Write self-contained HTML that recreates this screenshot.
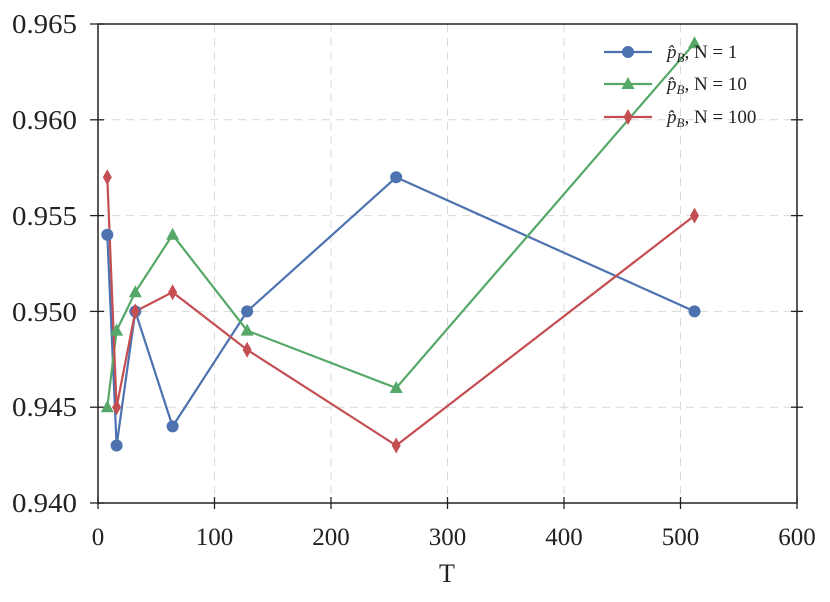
<!DOCTYPE html>
<html><head><meta charset="utf-8"><style>body{margin:0;background:#fff}</style></head><body>
<svg width="830" height="597" xmlns="http://www.w3.org/2000/svg" font-family="Liberation Serif, serif">
<rect width="830" height="597" fill="#fff"/>
<g stroke="#d9d9d9" stroke-width="1" stroke-dasharray="8,6">
<line x1="214.5" y1="24" x2="214.5" y2="503"/><line x1="331" y1="24" x2="331" y2="503"/><line x1="447.5" y1="24" x2="447.5" y2="503"/><line x1="564" y1="24" x2="564" y2="503"/><line x1="680.5" y1="24" x2="680.5" y2="503"/>
<line x1="98" y1="119.8" x2="797" y2="119.8"/><line x1="98" y1="215.6" x2="797" y2="215.6"/><line x1="98" y1="311.4" x2="797" y2="311.4"/><line x1="98" y1="407.2" x2="797" y2="407.2"/>
</g>
<g stroke="#222" stroke-width="1.3">
<line x1="98" y1="497" x2="98" y2="509"/><line x1="214.5" y1="497" x2="214.5" y2="509"/><line x1="331" y1="497" x2="331" y2="509"/><line x1="447.5" y1="497" x2="447.5" y2="509"/><line x1="564" y1="497" x2="564" y2="509"/><line x1="680.5" y1="497" x2="680.5" y2="509"/><line x1="797" y1="497" x2="797" y2="509"/>
<line x1="90" y1="24" x2="104" y2="24"/><line x1="90" y1="119.8" x2="104" y2="119.8"/><line x1="90" y1="215.6" x2="104" y2="215.6"/><line x1="90" y1="311.4" x2="104" y2="311.4"/><line x1="90" y1="407.2" x2="104" y2="407.2"/><line x1="90" y1="503" x2="104" y2="503"/>
<line x1="791" y1="119.8" x2="803" y2="119.8"/><line x1="791" y1="215.6" x2="803" y2="215.6"/><line x1="791" y1="311.4" x2="803" y2="311.4"/><line x1="791" y1="407.2" x2="803" y2="407.2"/>
</g>
<g font-size="27" fill="#222">
<text x="12" y="33" textLength="65" lengthAdjust="spacingAndGlyphs">0.965</text><text x="12" y="129" textLength="65" lengthAdjust="spacingAndGlyphs">0.960</text><text x="12" y="225" textLength="65" lengthAdjust="spacingAndGlyphs">0.955</text><text x="12" y="321" textLength="65" lengthAdjust="spacingAndGlyphs">0.950</text><text x="12" y="416" textLength="65" lengthAdjust="spacingAndGlyphs">0.945</text><text x="12" y="512" textLength="65" lengthAdjust="spacingAndGlyphs">0.940</text>
</g>
<g font-size="25" fill="#222" text-anchor="middle">
<text x="98" y="545">0</text><text x="214.5" y="545">100</text><text x="331" y="545">200</text><text x="447.5" y="545">300</text><text x="564" y="545">400</text><text x="680.5" y="545">500</text><text x="797" y="545">600</text>
<text x="447" y="582" font-size="26">T</text>
</g>
<g fill="none" stroke-width="2.2">
<polyline stroke="#4c72b0" points="107.3,234.8 116.6,445.5 135.3,311.4 172.6,426.4 247.1,311.4 396.2,177.3 694.5,311.4"/>
<polyline stroke="#55a868" points="107.3,407.2 116.6,330.6 135.3,292.2 172.6,234.8 247.1,330.6 396.2,388 694.5,43.2"/>
<polyline stroke="#c44e52" points="107.3,177.3 116.6,407.2 135.3,311.4 172.6,292.2 247.1,349.7 396.2,445.5 694.5,215.6"/>
</g>
<g fill="#4c72b0">
<circle cx="107.3" cy="234.8" r="6"/><circle cx="116.6" cy="445.5" r="6"/><circle cx="135.3" cy="311.4" r="6"/><circle cx="172.6" cy="426.4" r="6"/><circle cx="247.1" cy="311.4" r="6"/><circle cx="396.2" cy="177.3" r="6"/><circle cx="694.5" cy="311.4" r="6"/>
<line x1="604" y1="52" x2="652" y2="52" stroke="#4c72b0" stroke-width="2.2"/><circle cx="628" cy="52" r="6"/>
</g>
<g fill="#55a868">
<path d="M0,-7L6.5,5L-6.5,5Z" transform="translate(107.3,407.2)"/><path d="M0,-7L6.5,5L-6.5,5Z" transform="translate(116.6,330.6)"/><path d="M0,-7L6.5,5L-6.5,5Z" transform="translate(135.3,292.2)"/><path d="M0,-7L6.5,5L-6.5,5Z" transform="translate(172.6,234.8)"/><path d="M0,-7L6.5,5L-6.5,5Z" transform="translate(247.1,330.6)"/><path d="M0,-7L6.5,5L-6.5,5Z" transform="translate(396.2,388)"/><path d="M0,-7L6.5,5L-6.5,5Z" transform="translate(694.5,43.2)"/>
<line x1="604" y1="84" x2="652" y2="84" stroke="#55a868" stroke-width="2.2"/><path d="M0,-7L6.5,5L-6.5,5Z" transform="translate(628,84)"/>
</g>
<g fill="#c44e52">
<path d="M0,-8L4.5,0L0,8L-4.5,0Z" transform="translate(107.3,177.3)"/><path d="M0,-8L4.5,0L0,8L-4.5,0Z" transform="translate(116.6,407.2)"/><path d="M0,-8L4.5,0L0,8L-4.5,0Z" transform="translate(135.3,311.4)"/><path d="M0,-8L4.5,0L0,8L-4.5,0Z" transform="translate(172.6,292.2)"/><path d="M0,-8L4.5,0L0,8L-4.5,0Z" transform="translate(247.1,349.7)"/><path d="M0,-8L4.5,0L0,8L-4.5,0Z" transform="translate(396.2,445.5)"/><path d="M0,-8L4.5,0L0,8L-4.5,0Z" transform="translate(694.5,215.6)"/>
<line x1="604" y1="117" x2="652" y2="117" stroke="#c44e52" stroke-width="2.2"/><path d="M0,-8L4.5,0L0,8L-4.5,0Z" transform="translate(628,117)"/>
</g>
<g font-size="19" fill="#222">
<text x="667" y="58"><tspan font-style="italic">p̂</tspan><tspan font-style="italic" font-size="13" dy="4">B</tspan><tspan dy="-4">, N = 1</tspan></text>
<text x="667" y="90"><tspan font-style="italic">p̂</tspan><tspan font-style="italic" font-size="13" dy="4">B</tspan><tspan dy="-4">, N = 10</tspan></text>
<text x="667" y="123"><tspan font-style="italic">p̂</tspan><tspan font-style="italic" font-size="13" dy="4">B</tspan><tspan dy="-4">, N = 100</tspan></text>
</g>
<rect x="98" y="24" width="699" height="479" fill="none" stroke="#222" stroke-width="1.5"/>
</svg>
</body></html>
